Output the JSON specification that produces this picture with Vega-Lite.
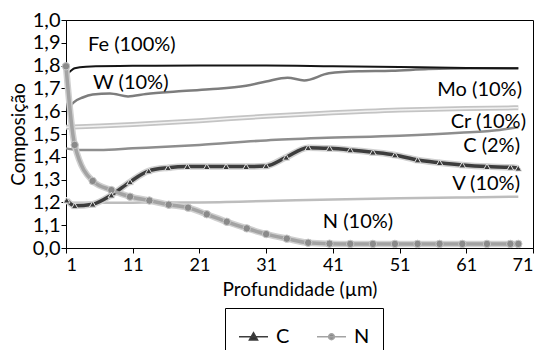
{
  "$schema": "https://vega.github.io/schema/vega-lite/v6.json",
  "width": 467,
  "height": 228,
  "autosize": {"type": "none"},
  "padding": {"left": 66, "top": 20, "right": 11, "bottom": 102},
  "config": {
    "font": "Lato",
    "view": {"stroke": "black", "strokeWidth": 1},
    "axis": {"grid": false, "domainColor": "black", "tickColor": "black", "labelColor": "black", "titleColor": "black", "titleFontWeight": "normal", "tickSize": 5}
  },
  "datasets": {
    "curves": [
      {"s": "Fe", "x": 1.35, "y": 0.766}, {"s": "Fe", "x": 2.3, "y": 0.788}, {"s": "Fe", "x": 4, "y": 0.795}, {"s": "Fe", "x": 11, "y": 0.799}, {"s": "Fe", "x": 21, "y": 0.8}, {"s": "Fe", "x": 31, "y": 0.8}, {"s": "Fe", "x": 41, "y": 0.797}, {"s": "Fe", "x": 51, "y": 0.794}, {"s": "Fe", "x": 61, "y": 0.79}, {"s": "Fe", "x": 68.8, "y": 0.788},
      {"s": "W", "x": 1.3, "y": 0.61}, {"s": "W", "x": 2.2, "y": 0.64}, {"s": "W", "x": 3.5, "y": 0.66}, {"s": "W", "x": 5, "y": 0.673}, {"s": "W", "x": 7.6, "y": 0.678}, {"s": "W", "x": 10.3, "y": 0.665}, {"s": "W", "x": 13, "y": 0.675}, {"s": "W", "x": 17.5, "y": 0.686}, {"s": "W", "x": 22.5, "y": 0.696}, {"s": "W", "x": 28, "y": 0.712}, {"s": "W", "x": 31, "y": 0.73}, {"s": "W", "x": 34.2, "y": 0.747}, {"s": "W", "x": 36.7, "y": 0.735}, {"s": "W", "x": 40.4, "y": 0.766}, {"s": "W", "x": 44.9, "y": 0.775}, {"s": "W", "x": 49.8, "y": 0.777}, {"s": "W", "x": 55.3, "y": 0.785}, {"s": "W", "x": 62, "y": 0.788}, {"s": "W", "x": 68.8, "y": 0.788},
      {"s": "Mo", "x": 1, "y": 0.53}, {"s": "Mo", "x": 6, "y": 0.535}, {"s": "Mo", "x": 11, "y": 0.542}, {"s": "Mo", "x": 21, "y": 0.558}, {"s": "Mo", "x": 31, "y": 0.578}, {"s": "Mo", "x": 39, "y": 0.59}, {"s": "Mo", "x": 51, "y": 0.605}, {"s": "Mo", "x": 61, "y": 0.612}, {"s": "Mo", "x": 68.8, "y": 0.615},
      {"s": "Cr", "x": 1, "y": 0.437}, {"s": "Cr", "x": 3, "y": 0.43}, {"s": "Cr", "x": 6, "y": 0.43}, {"s": "Cr", "x": 11, "y": 0.437}, {"s": "Cr", "x": 21, "y": 0.452}, {"s": "Cr", "x": 31, "y": 0.472}, {"s": "Cr", "x": 39, "y": 0.482}, {"s": "Cr", "x": 51, "y": 0.492}, {"s": "Cr", "x": 60, "y": 0.505}, {"s": "Cr", "x": 66, "y": 0.518}, {"s": "Cr", "x": 68.8, "y": 0.53},
      {"s": "V", "x": 1, "y": 0.198}, {"s": "V", "x": 11, "y": 0.199}, {"s": "V", "x": 21, "y": 0.2}, {"s": "V", "x": 31, "y": 0.206}, {"s": "V", "x": 41, "y": 0.213}, {"s": "V", "x": 51, "y": 0.218}, {"s": "V", "x": 61, "y": 0.222}, {"s": "V", "x": 68.8, "y": 0.225},
      {"s": "C", "x": 1.1, "y": 0.21}, {"s": "C", "x": 2.3, "y": 0.185}, {"s": "C", "x": 5, "y": 0.192}, {"s": "C", "x": 7.8, "y": 0.232}, {"s": "C", "x": 10.6, "y": 0.29}, {"s": "C", "x": 13.4, "y": 0.338}, {"s": "C", "x": 16.3, "y": 0.352}, {"s": "C", "x": 19.2, "y": 0.357}, {"s": "C", "x": 22.1, "y": 0.357}, {"s": "C", "x": 25, "y": 0.357}, {"s": "C", "x": 28, "y": 0.357}, {"s": "C", "x": 31, "y": 0.36}, {"s": "C", "x": 34, "y": 0.398}, {"s": "C", "x": 37.3, "y": 0.44}, {"s": "C", "x": 40.5, "y": 0.437}, {"s": "C", "x": 43.6, "y": 0.43}, {"s": "C", "x": 47, "y": 0.42}, {"s": "C", "x": 50.3, "y": 0.408}, {"s": "C", "x": 53.7, "y": 0.386}, {"s": "C", "x": 57, "y": 0.374}, {"s": "C", "x": 60.4, "y": 0.364}, {"s": "C", "x": 64.1, "y": 0.357}, {"s": "C", "x": 67.6, "y": 0.354}, {"s": "C", "x": 68.8, "y": 0.35},
      {"s": "N", "x": 1, "y": 0.797}, {"s": "N", "x": 2.3, "y": 0.452}, {"s": "N", "x": 5, "y": 0.294}, {"s": "N", "x": 7.8, "y": 0.254}, {"s": "N", "x": 10.6, "y": 0.225}, {"s": "N", "x": 13.5, "y": 0.208}, {"s": "N", "x": 16.4, "y": 0.19}, {"s": "N", "x": 19.3, "y": 0.177}, {"s": "N", "x": 22.1, "y": 0.148}, {"s": "N", "x": 25.1, "y": 0.115}, {"s": "N", "x": 28.1, "y": 0.086}, {"s": "N", "x": 31, "y": 0.061}, {"s": "N", "x": 34.1, "y": 0.041}, {"s": "N", "x": 37.3, "y": 0.023}, {"s": "N", "x": 40.5, "y": 0.019}, {"s": "N", "x": 43.6, "y": 0.018}, {"s": "N", "x": 47, "y": 0.018}, {"s": "N", "x": 50.3, "y": 0.018}, {"s": "N", "x": 53.7, "y": 0.018}, {"s": "N", "x": 57, "y": 0.018}, {"s": "N", "x": 60.4, "y": 0.018}, {"s": "N", "x": 64.1, "y": 0.018}, {"s": "N", "x": 67.6, "y": 0.018}, {"s": "N", "x": 68.8, "y": 0.018}
    ],
    "labels": [
      {"label": "Fe (100%)", "x": 4.3, "y": 0.89},
      {"label": "W (10%)", "x": 5.05, "y": 0.724},
      {"label": "N (10%)", "x": 39.5, "y": 0.114},
      {"label": "Mo (10%)", "x": 69.35, "y": 0.693},
      {"label": "Cr (10%)", "x": 69.95, "y": 0.553},
      {"label": "C (2%)", "x": 69.05, "y": 0.447},
      {"label": "V (10%)", "x": 69.05, "y": 0.281}
    ]
  },
  "encoding": {
    "x": {"field": "x", "type": "quantitative", "scale": {"domain": [1, 71], "nice": false, "zero": false},
      "axis": {"values": [1, 11, 21, 31, 41, 51, 61, 71], "format": "d", "labelFontSize": 18, "labelPadding": 3, "title": "Profundidade (µm)", "titleFontSize": 19, "titlePadding": 6}},
    "y": {"field": "y", "type": "quantitative", "scale": {"domain": [0, 1], "nice": false, "zero": false},
      "axis": {"values": [0, 0.1, 0.2, 0.3, 0.4, 0.5, 0.6, 0.7, 0.8, 0.9, 1], "labelExpr": "datum.value == 0 ? '0,0' : '1,' + (round(datum.value*10) % 10)", "labelFontSize": 20, "labelPadding": 1, "title": "Composição", "titleFontSize": 19, "titlePadding": 4}}
  },
  "layer": [
    {"data": {"name": "curves"}, "transform": [{"filter": "datum.s == 'Mo'"}], "mark": {"type": "line", "interpolate": "monotone", "color": "#c4c4c4", "strokeWidth": 5}},
    {"data": {"name": "curves"}, "transform": [{"filter": "datum.s == 'Mo'"}], "mark": {"type": "line", "interpolate": "monotone", "color": "#f2f2f2", "strokeWidth": 1.5}},
    {"data": {"name": "curves"}, "transform": [{"filter": "datum.s == 'Cr'"}], "mark": {"type": "line", "interpolate": "monotone", "color": "#8e8e8e", "strokeWidth": 2.5}},
    {"data": {"name": "curves"}, "transform": [{"filter": "datum.s == 'V'"}], "mark": {"type": "line", "interpolate": "monotone", "color": "#bdbdbd", "strokeWidth": 2.5}},
    {"data": {"name": "curves"}, "transform": [{"filter": "datum.s == 'W'"}], "mark": {"type": "line", "interpolate": "monotone", "color": "#7d7d7d", "strokeWidth": 2.5}},
    {"data": {"name": "curves"}, "transform": [{"filter": "datum.s == 'Fe'"}], "mark": {"type": "line", "interpolate": "monotone", "color": "#151515", "strokeWidth": 2}},
    {"data": {"name": "curves"}, "transform": [{"filter": "datum.s == 'C' || datum.s == 'N'"}], "mark": {"type": "line", "interpolate": "monotone", "color": "#d0d0d0", "strokeWidth": 6.5}, "encoding": {"detail": {"field": "s"}}},
    {"data": {"name": "curves"}, "transform": [{"filter": "datum.s == 'C' || datum.s == 'N'"}], "mark": {"type": "line", "interpolate": "monotone", "strokeWidth": 3.5},
      "encoding": {"color": {"field": "s", "type": "nominal", "scale": {"domain": ["C", "N"], "range": ["#3d3d3d", "#a3a3a3"]},
        "legend": {"title": null, "orient": "none", "legendX": 159, "legendY": 288, "direction": "horizontal", "columns": 2, "strokeColor": "black", "fillColor": "white", "padding": 13, "labelFontSize": 20, "labelColor": "black", "labelOffset": 7, "columnPadding": 24, "symbolSize": 841, "symbolStrokeWidth": 1.5,
          "encode": {"symbols": {"update": {
            "shape": {"signal": "datum.value === 'C' ? 'M-1,0L1,0M-0.28,0.22L0,-0.28L0.28,0.22Z' : 'M-1,0L1,0M0.2,0A0.2,0.2,0,1,1,-0.2,0A0.2,0.2,0,1,1,0.2,0Z'"},
            "fill": {"signal": "datum.value === 'C' ? '#303030' : '#888888'"},
            "stroke": {"signal": "datum.value === 'C' ? '#202020' : '#505050'"},
            "strokeWidth": {"value": 1.5}}}}}}}},
    {"data": {"name": "curves"}, "transform": [{"filter": "datum.s == 'N'"}], "mark": {"type": "point", "shape": "circle", "filled": true, "size": 55, "fill": "#8a8a8a", "stroke": "#c8c8c8", "strokeWidth": 1, "opacity": 1}},
    {"data": {"name": "curves"}, "transform": [{"filter": "datum.s == 'C'"}], "mark": {"type": "point", "shape": "triangle-up", "filled": true, "size": 45, "fill": "#3a3a3a", "stroke": "#e2e2e2", "strokeWidth": 1, "opacity": 1}},
    {"data": {"name": "labels"}, "transform": [{"filter": "indexof(['Fe (100%)', 'W (10%)', 'N (10%)'], datum.label) >= 0"}], "mark": {"type": "text", "align": "left", "baseline": "middle", "fontSize": 20, "color": "black"}, "encoding": {"text": {"field": "label"}}},
    {"data": {"name": "labels"}, "transform": [{"filter": "indexof(['Fe (100%)', 'W (10%)', 'N (10%)'], datum.label) < 0"}], "mark": {"type": "text", "align": "right", "baseline": "middle", "fontSize": 20, "color": "black"}, "encoding": {"text": {"field": "label"}}}
  ]
}
